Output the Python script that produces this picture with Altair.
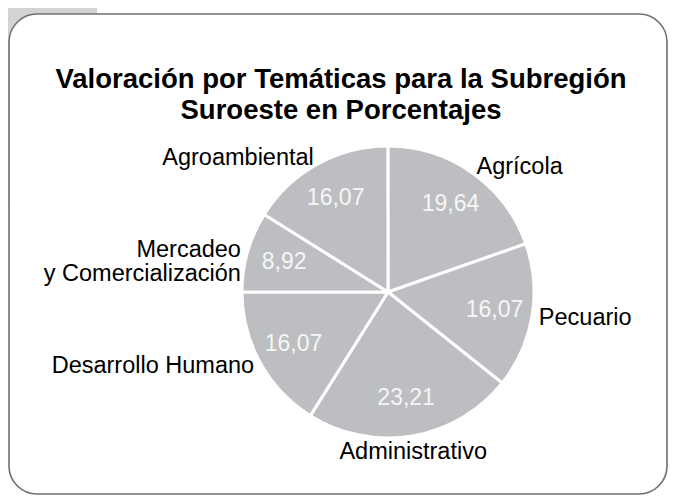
import altair as alt
import pandas as pd

# ---- data ----
categorias = ["Agrícola", "Pecuario", "Administrativo", "Desarrollo Humano",
              "Mercadeo\ny Comercialización", "Agroambiental"]
valores = [19.64, 16.07, 23.21, 16.07, 8.92, 16.07]
titulo = "Valoración por Temáticas para la Subregión\nSuroeste en Porcentajes"

df = pd.DataFrame({"Tematica": categorias, "Valor": valores,
                   "orden": list(range(len(categorias)))})

FONT = "Liberation Sans"
W, H = 660, 487
CX, CY, R = 380, 284, 146

theta_scale = alt.Scale(domain=[0, 100], range=[0, 6.283185307179586])

base = alt.Chart(df).transform_window(
    cum="sum(Valor)", sort=[alt.SortField("orden")], frame=[None, 0]
).transform_calculate(
    start="datum.cum - datum.Valor",
    mid="datum.cum - datum.Valor / 2",
    lbl="replace(format(datum.Valor, '.2f'), '.', ',')",
)

center = dict(x=alt.value(CX), y=alt.value(CY))

arcs = base.mark_arc(radius=R, fill="#bdbec1", stroke="white", strokeWidth=3).encode(
    theta=alt.Theta("start:Q", scale=theta_scale, stack=None),
    theta2="cum:Q",
    **center,
)

inner = base.mark_text(radius=108, fontSize=23, font=FONT, color="#f6f6f6").encode(
    theta=alt.Theta("mid:Q", scale=theta_scale, stack=None),
    text="lbl:N",
    **center,
)

def outer(cond, align, baseline, radius):
    return base.transform_filter(cond).mark_text(
        radius=radius, fontSize=23.5, font=FONT, color="black", align=align,
        baseline=baseline, lineBreak="\n", lineHeight=24,
    ).encode(
        theta=alt.Theta("mid:Q", scale=theta_scale, stack=None),
        text="Tematica:N",
        **center,
    )

outer_r = outer("datum.mid < 45", "left", "middle", 153)
outer_b = outer("datum.mid >= 45 && datum.mid <= 55", "center", "top", 150)
outer_l = outer("datum.mid > 55", "right", "middle", 153)

dummy = alt.Chart(pd.DataFrame({"k": [0]}))
block = dummy.mark_rect(fill="#d3d3d5").encode(
    x=alt.value(0), x2=alt.value(89), y=alt.value(0), y2=alt.value(194))
box = dummy.mark_rect(fill="white", stroke="#707070", strokeWidth=1.6, cornerRadius=28).encode(
    x=alt.value(1), x2=alt.value(659), y=alt.value(6), y2=alt.value(486))
title = dummy.mark_text(fontSize=27.5, fontWeight="bold", font=FONT, color="black",
                        align="center", baseline="alphabetic", lineBreak="\n",
                        lineHeight=31).encode(
    x=alt.value(333), y=alt.value(80), text=alt.value(titulo))

chart = alt.layer(block, box, arcs, inner, outer_r, outer_b, outer_l, title).properties(
    width=W, height=H, autosize=alt.AutoSizeParams(type="none"), padding=0
).configure_view(stroke=None)

chart.save("out.html", embed_options={"renderer": "svg", "actions": False})
